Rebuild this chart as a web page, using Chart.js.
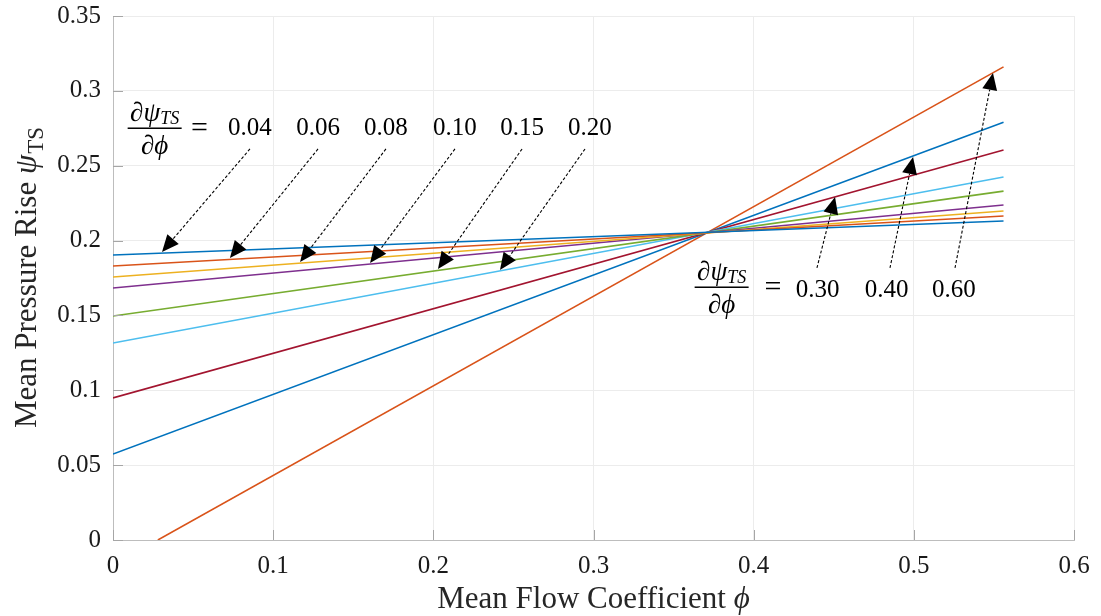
<!DOCTYPE html>
<html>
<head>
<meta charset="utf-8">
<script src="https://cdn.jsdelivr.net/npm/chart.js@4.4.1/dist/chart.umd.min.js"></script>
<style>
  html, body { margin: 0; padding: 0; background: #fff; }
  #wrap { width: 1101px; height: 616px; }
</style>
</head>
<body>
<div id="wrap"><canvas id="chart"></canvas></div>
<script>
// slope labels and line ends
const slopes   = ['0.04', '0.06', '0.08', '0.10', '0.15', '0.20', '0.30', '0.40', '0.60'];
const phiStart = [0, 0, 0, 0, 0, 0, 0, 0, 0.028];
const psiStart = [0.1904, 0.1830, 0.1757, 0.1683, 0.1496, 0.1316, 0.0949, 0.0574, 0];
const phiEnd   = [0.556, 0.556, 0.556, 0.556, 0.556, 0.556, 0.556, 0.556, 0.556];
const psiEnd   = [0.2131, 0.2164, 0.2198, 0.2238, 0.2330, 0.2425, 0.2605, 0.2790, 0.3160];
const lineColors = ['#0072BD', '#D95319', '#EDB120', '#7E2F8E', '#77AC30', '#4DBEEE', '#A2142F', '#0072BD', '#D95319'];

// annotation anchors (data units)
const topLabels = ['0.04', '0.06', '0.08', '0.10', '0.15', '0.20'];
const topLabelX = [0.0855, 0.128, 0.1704, 0.2135, 0.2554, 0.2978];
const topTailX  = [0.0855, 0.128, 0.1704, 0.2135, 0.2554, 0.2947];
const topHeads  = [[0.0306, 0.1924], [0.073, 0.1884], [0.1168, 0.1857], [0.1605, 0.185], [0.2029, 0.181], [0.2416, 0.1804]];
const botLabels = ['0.30', '0.40', '0.60'];
const botLabelX = [0.440, 0.483, 0.525];
const botTailX  = [0.4395, 0.4851, 0.5257];
const botHeads  = [[0.4508, 0.2291], [0.4995, 0.2558], [0.5494, 0.312]];

const serif = '"Liberation Serif", "Times New Roman", serif';

const datasets = slopes.map((s, i) => ({
  label: s,
  data: [{ x: phiStart[i], y: psiStart[i] }, { x: phiEnd[i], y: psiEnd[i] }],
  borderColor: lineColors[i],
  borderWidth: 1.6,
  showLine: true,
  pointRadius: 0,
  fill: false
}));

function arrow(c, x0, y0, x1, y1) {
  const ang = Math.atan2(y1 - y0, x1 - x0);
  const hl = 17, hw = 7.5;
  const bx = x1 - hl * Math.cos(ang), by = y1 - hl * Math.sin(ang);
  c.save();
  c.strokeStyle = '#000';
  c.lineWidth = 1.1;
  c.setLineDash([3, 2]);
  c.beginPath();
  c.moveTo(x0, y0);
  c.lineTo(bx, by);
  c.stroke();
  c.setLineDash([]);
  c.fillStyle = '#000';
  c.beginPath();
  c.moveTo(x1, y1);
  c.lineTo(bx + hw * Math.sin(ang), by - hw * Math.cos(ang));
  c.lineTo(bx - hw * Math.sin(ang), by + hw * Math.cos(ang));
  c.closePath();
  c.fill();
  c.restore();
}

function fraction(c, cx, cy, eqX) {
  c.save();
  c.fillStyle = '#000';
  c.textBaseline = 'alphabetic';
  // numerator
  c.font = 'italic 27px ' + serif;
  const w1 = c.measureText('\u2202\u03C8').width;
  c.font = 'italic 18px ' + serif;
  const w2 = c.measureText('TS').width;
  let x = cx - (w1 + w2) / 2;
  c.font = 'italic 27px ' + serif;
  c.textAlign = 'left';
  c.fillText('\u2202\u03C8', x, cy - 7);
  c.font = 'italic 18px ' + serif;
  c.fillText('TS', x + w1, cy - 4);
  // bar
  c.fillRect(cx - 27, cy - 0.5, 54, 1.5);
  // denominator
  c.font = 'italic 27px ' + serif;
  c.textAlign = 'center';
  c.fillText('\u2202\u03D5', cx, cy + 26);
  // equals
  c.font = '30px ' + serif;
  c.fillText('=', eqX, cy + 9);
  c.restore();
}

const decor = {
  id: 'decor',
  afterDraw(chart) {
    const c = chart.ctx, xs = chart.scales.x, ys = chart.scales.y, a = chart.chartArea;
    // inward tick marks on left and bottom axes
    c.save();
    c.strokeStyle = '#a6a6a6';
    c.lineWidth = 1;
    xs.ticks.forEach(t => {
      const px = Math.round(xs.getPixelForValue(t.value)) + 0.5;
      c.beginPath(); c.moveTo(px, a.bottom); c.lineTo(px, a.bottom - 10); c.stroke();
    });
    ys.ticks.forEach(t => {
      const py = Math.round(ys.getPixelForValue(t.value)) + 0.5;
      c.beginPath(); c.moveTo(a.left, py); c.lineTo(a.left + 10, py); c.stroke();
    });
    c.restore();

    // axis titles
    c.save();
    c.fillStyle = '#262626';
    c.textBaseline = 'alphabetic';
    c.font = '31px ' + serif;
    const xt = 'Mean Flow Coefficient ';
    const wx = c.measureText(xt).width;
    c.font = 'italic 31px ' + serif;
    const wphi = c.measureText('\u03D5').width;
    let sx = (a.left + a.right) / 2 - (wx + wphi) / 2;
    c.textAlign = 'left';
    c.font = '31px ' + serif;
    c.fillText(xt, sx, 608);
    c.font = 'italic 31px ' + serif;
    c.fillText('\u03D5', sx + wx, 608);

    c.translate(36, (a.top + a.bottom) / 2);
    c.rotate(-Math.PI / 2);
    c.font = '31px ' + serif;
    const yt = 'Mean Pressure Rise ';
    const wy = c.measureText(yt).width;
    c.font = 'italic 31px ' + serif;
    const wpsi = c.measureText('\u03C8').width;
    c.font = '23px ' + serif;
    const wts = c.measureText('TS').width;
    let sy = -(wy + wpsi + wts) / 2;
    c.font = '31px ' + serif;
    c.fillText(yt, sy, 0);
    c.font = 'italic 31px ' + serif;
    c.fillText('\u03C8', sy + wy, 0);
    c.font = '23px ' + serif;
    c.fillText('TS', sy + wy + wpsi + 1, 7);
    c.restore();

    // slope annotations
    c.save();
    c.fillStyle = '#000';
    c.font = '25px ' + serif;
    c.textAlign = 'center';
    c.textBaseline = 'middle';
    const topY = ys.getPixelForValue(0.2752);
    const topTailY = ys.getPixelForValue(0.2612);
    topLabels.forEach((s, i) => {
      c.fillText(s, xs.getPixelForValue(topLabelX[i]), topY);
      arrow(c, xs.getPixelForValue(topTailX[i]), topTailY,
        xs.getPixelForValue(topHeads[i][0]), ys.getPixelForValue(topHeads[i][1]));
    });
    const botY = ys.getPixelForValue(0.167);
    const botTailY = ys.getPixelForValue(0.1817);
    botLabels.forEach((s, i) => {
      c.fillText(s, xs.getPixelForValue(botLabelX[i]), botY);
      arrow(c, xs.getPixelForValue(botTailX[i]), botTailY,
        xs.getPixelForValue(botHeads[i][0]), ys.getPixelForValue(botHeads[i][1]));
    });
    c.restore();

    fraction(c, xs.getPixelForValue(0.026), ys.getPixelForValue(0.2752), xs.getPixelForValue(0.054));
    fraction(c, xs.getPixelForValue(0.380), ys.getPixelForValue(0.169), xs.getPixelForValue(0.412));
  }
};

const fmt = v => String(+Number(v).toFixed(2));

new Chart(document.getElementById('chart'), {
  type: 'scatter',
  data: { datasets },
  options: {
    responsive: true,
    maintainAspectRatio: false,
    animation: false,
    layout: { padding: { top: 16, right: 27, left: 0, bottom: 0 } },
    plugins: { legend: { display: false }, tooltip: { enabled: false } },
    scales: {
      x: {
        type: 'linear', min: 0, max: 0.6,
        afterFit: s => { s.height = 76; s.paddingLeft = 0; s.paddingRight = 0; },
        ticks: { stepSize: 0.1, padding: 11, color: '#1a1a1a', font: { family: serif, size: 25 }, callback: fmt, maxRotation: 0 },
        grid: { color: '#ececec', drawTicks: false },
        border: { color: '#bdbdbd' }
      },
      y: {
        type: 'linear', min: 0, max: 0.35,
        afterFit: s => { s.width = 113; s.paddingTop = 0; s.paddingBottom = 0; },
        ticks: { stepSize: 0.05, padding: 12, color: '#1a1a1a', font: { family: serif, size: 25 }, callback: fmt },
        grid: { color: '#ececec', drawTicks: false },
        border: { color: '#bdbdbd' }
      }
    }
  },
  plugins: [decor]
});
</script>
</body>
</html>
